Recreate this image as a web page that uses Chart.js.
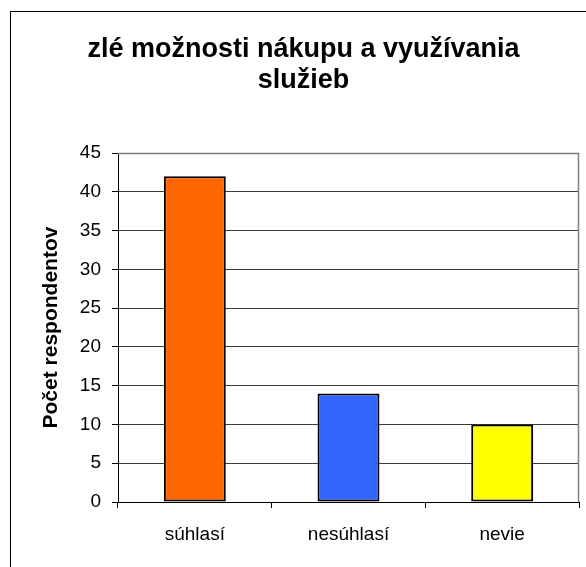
<!DOCTYPE html>
<html>
<head>
<meta charset="utf-8">
<script src="https://cdn.jsdelivr.net/npm/chart.js@4"></script>
<style>
    body { margin: 0; background: #fff; }
</style>
</head>
<body>
<canvas id="chart" width="586" height="567"></canvas>
<script>
var categories = ['súhlasí', 'nesúhlasí', 'nevie'];
var values = [42, 14, 10];
var barColors = ['#FF6600', '#3366FF', '#FFFF00'];
var titleLines = ['zlé možnosti nákupu a využívania', 'služieb'];
var yAxisTitle = 'Počet respondentov';

var fontFamily = "'Liberation Sans', Arial, sans-serif";

// outer chart frame + plot area border (top and right edge, grey)
var framePlugin = {
    id: 'frame',
    beforeDraw: function (chart) {
        var ctx = chart.ctx;
        ctx.save();
        ctx.strokeStyle = '#000';
        ctx.lineWidth = 1;
        ctx.strokeRect(10.5, 11.5, 700, 700);
        ctx.restore();
    },
    afterDatasetsDraw: function (chart) {
        var ctx = chart.ctx;
        var a = chart.chartArea;
        ctx.save();
        ctx.strokeStyle = '#808080';
        ctx.lineWidth = 1.5;
        ctx.beginPath();
        ctx.moveTo(a.left, a.top + 0.5);
        ctx.lineTo(a.right - 0.5, a.top + 0.5);
        ctx.lineTo(a.right - 0.5, a.bottom);
        ctx.stroke();
        ctx.restore();
    }
};

var ctx = document.getElementById('chart').getContext('2d');
var chart = new Chart(ctx, {
    type: 'bar',
    data: {
        labels: categories,
        datasets: [{
            data: values,
            backgroundColor: barColors,
            borderColor: '#000',
            borderWidth: 2,
            borderSkipped: false,
            barPercentage: 0.403,
            categoryPercentage: 1
        }]
    },
    options: {
        responsive: false,
        animation: false,
        devicePixelRatio: 1,
        layout: {
            padding: { left: 28, right: 7, top: 0, bottom: 0 }
        },
        plugins: {
            legend: { display: false },
            tooltip: { enabled: false },
            title: {
                display: true,
                text: titleLines,
                color: '#000',
                font: { family: fontFamily, size: 27, weight: 'bold', lineHeight: 1.15 },
                padding: { top: 34, bottom: 57 }
            }
        },
        scales: {
            x: {
                grid: {
                    display: true,
                    drawOnChartArea: false,
                    offset: true,
                    tickLength: 6,
                    tickColor: '#000'
                },
                border: { color: '#000', width: 1 },
                ticks: {
                    color: '#000',
                    padding: 15,
                    font: { family: fontFamily, size: 19 }
                },
                afterFit: function (scale) { scale.height = 65; }
            },
            y: {
                min: 0,
                max: 45,
                ticks: {
                    stepSize: 5,
                    color: '#000',
                    padding: 11,
                    font: { family: fontFamily, size: 19 }
                },
                grid: {
                    color: function (c) { return c.tick && c.tick.value === 45 ? '#808080' : '#3a3a3a'; },
                    tickLength: 6,
                    tickColor: '#000'
                },
                border: { color: '#000', width: 1 },
                title: {
                    display: true,
                    text: yAxisTitle,
                    color: '#000',
                    font: { family: fontFamily, size: 21, weight: 'bold', lineHeight: 1.2 },
                    padding: { top: 11, bottom: 0 }
                },
                afterFit: function (scale) { scale.width = 90; }
            }
        }
    },
    plugins: [framePlugin]
});
</script>
</body>
</html>
